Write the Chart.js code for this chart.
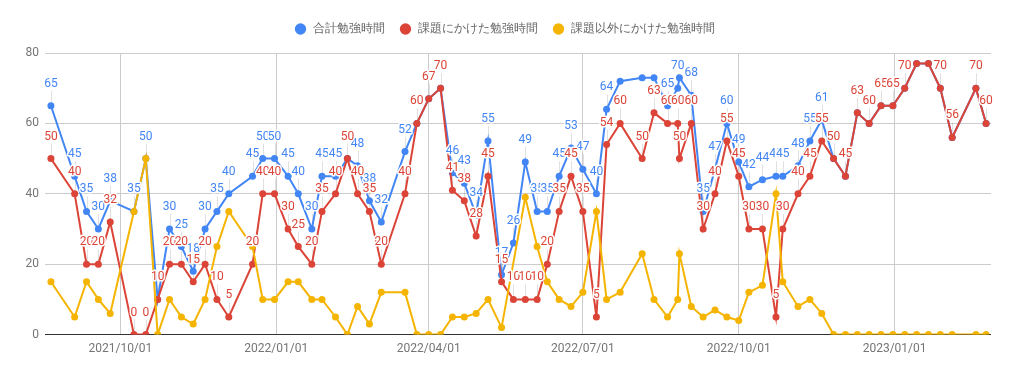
<!DOCTYPE html>
<html>
<head>
<meta charset="utf-8">
<script src="https://cdn.jsdelivr.net/npm/chart.js@4.4.1/dist/chart.umd.min.js"></script>
<style>
  html, body { margin: 0; background: #fff; }
</style>
</head>
<body>
<canvas id="chart" width="1009" height="373"></canvas>
<script>
// weekly study log
const dates = [
  '2021-08-21', '2021-09-04', '2021-09-11', '2021-09-18', '2021-09-25',
  '2021-10-09', '2021-10-16', '2021-10-23', '2021-10-30', '2021-11-06',
  '2021-11-13', '2021-11-20', '2021-11-27', '2021-12-04', '2021-12-18',
  '2021-12-24', '2021-12-31', '2022-01-08', '2022-01-14', '2022-01-22',
  '2022-01-28', '2022-02-05', '2022-02-12', '2022-02-18', '2022-02-25',
  '2022-03-04', '2022-03-18', '2022-03-25', '2022-04-01', '2022-04-08',
  '2022-04-15', '2022-04-22', '2022-04-29', '2022-05-06', '2022-05-14',
  '2022-05-21', '2022-05-28', '2022-06-04', '2022-06-10', '2022-06-17',
  '2022-06-24', '2022-07-01', '2022-07-09', '2022-07-15', '2022-07-23',
  '2022-08-05', '2022-08-12', '2022-08-20', '2022-08-26', '2022-08-27',
  '2022-09-03', '2022-09-10', '2022-09-17', '2022-09-24', '2022-10-01',
  '2022-10-07', '2022-10-15', '2022-10-23', '2022-10-27', '2022-11-05',
  '2022-11-12', '2022-11-19', '2022-11-26', '2022-12-03', '2022-12-10',
  '2022-12-17', '2022-12-24', '2022-12-31', '2023-01-07', '2023-01-14',
  '2023-01-21', '2023-01-28', '2023-02-04', '2023-02-18', '2023-02-24'
];
const totalHours = [
  65, 45, 35, 30, 38, 35, 50, 10, 30, 25,
  18, 30, 35, 40, 45, 50, 50, 45, 40, 30,
  45, 45, 50, 48, 38, 32, 52, 60, 67, 70,
  46, 43, 34, 55, 17, 26, 49, 35, 35, 45,
  53, 47, 40, 64, 72, 73, 73, 65, 70, 73,
  68, 35, 47, 60, 49, 42, 44, 45, 45, 48,
  55, 61, 50, 45, 63, 60, 65, 65, 70, 77,
  77, 70, 56, 70, 60
];
const assignmentHours = [
  50, 40, 20, 20, 32, 0, 0, 10, 20, 20,
  15, 20, 10, 5, 20, 40, 40, 30, 25, 20,
  35, 40, 50, 40, 35, 20, 40, 60, 67, 70,
  41, 38, 28, 45, 15, 10, 10, 10, 20, 35,
  45, 35, 5, 54, 60, 50, 63, 60, 60, 50,
  60, 30, 40, 55, 45, 30, 30, 5, 30, 40,
  45, 55, 50, 45, 63, 60, 65, 65, 70, 77,
  77, 70, 56, 70, 60
];
const otherHours = [
  15, 5, 15, 10, 6, 35, 50, 0, 10, 5,
  3, 10, 25, 35, 25, 10, 10, 15, 15, 10,
  10, 5, 0, 8, 3, 12, 12, 0, 0, 0,
  5, 5, 6, 10, 2, null, 39, 25, 15, 10,
  8, 12, 35, 10, 12, 23, 10, 5, 10, 23,
  8, 5, 7, 5, 4, 12, 14, 40, 15, 8,
  10, 6, 0, 0, 0, 0, 0, 0, 0, 0,
  0, 0, 0, 0, 0
];
const seriesNames = ['合計勉強時間', '課題にかけた勉強時間', '課題以外にかけた勉強時間'];
const tickLabels = ['2021/10/01', '2022/01/01', '2022/04/01', '2022/07/01', '2022/10/01', '2023/01/01'];
const xStart = '2021-08-17T12:00:00Z';
const xEnd = '2023-02-26T22:00:00Z';

const colors = ['#4285f4', '#db4437', '#f4b400'];
const LABEL_RISE = 22;
const labelFont = '12px Roboto, Arial, sans-serif';

const toTime = s => Date.parse(s);
const toSeries = values => values.map((v, i) => ({ x: toTime(dates[i]), y: v }));

// which labels to show: blue hides under an equal red one, and nothing above the plot
const labelSpots = chart => {
  const spots = [];
  const top = chart.chartArea.top;
  [0, 1].forEach(di => {
    const meta = chart.getDatasetMeta(di);
    const values = di === 0 ? totalHours : assignmentHours;
    meta.data.forEach((pt, i) => {
      const v = values[i];
      if (v == null) return;
      if (di === 0 && v === assignmentHours[i]) return;
      const ty = pt.y - LABEL_RISE;
      if (ty - 6 < top + 4) return;
      spots.push({ x: pt.x, y: pt.y, ty, text: String(v), color: colors[di] });
    });
  });
  return spots;
};

const pointLabels = {
  id: 'pointLabels',
  beforeDatasetsDraw(chart) {
    const ctx = chart.ctx;
    ctx.save();
    ctx.strokeStyle = 'rgba(0,0,0,0.12)';
    ctx.lineWidth = 1;
    labelSpots(chart).forEach(s => {
      const x = Math.round(s.x) + 0.5;
      ctx.beginPath();
      ctx.moveTo(x, s.y);
      ctx.lineTo(x, s.ty + 7);
      ctx.stroke();
    });
    ctx.restore();
  },
  afterDatasetsDraw(chart) {
    const ctx = chart.ctx;
    ctx.save();
    ctx.font = labelFont;
    ctx.textAlign = 'center';
    ctx.textBaseline = 'middle';
    ctx.lineJoin = 'round';
    labelSpots(chart).forEach(s => {
      ctx.strokeStyle = '#fff';
      ctx.lineWidth = 3;
      ctx.strokeText(s.text, s.x, s.ty);
      ctx.fillStyle = s.color;
      ctx.fillText(s.text, s.x, s.ty);
    });
    ctx.restore();
  }
};

// extra room between legend and plot
const legendGap = {
  id: 'legendGap',
  afterInit(chart) {
    const legend = chart.legend;
    const fit = legend.fit.bind(legend);
    legend.fit = () => { fit(); legend.height += 8; };
  }
};

const makeSet = (label, values, color, order) => ({
  label: label,
  data: toSeries(values),
  borderColor: color,
  backgroundColor: color,
  pointBackgroundColor: color,
  pointBorderWidth: 0,
  pointRadius: 3.5,
  borderWidth: 2,
  tension: 0,
  spanGaps: true,
  yAxisID: 'y',
  order: order
});

new Chart(document.getElementById('chart'), {
  type: 'line',
  data: {
    datasets: [
      makeSet(seriesNames[0], totalHours, colors[0], 3),
      makeSet(seriesNames[1], assignmentHours, colors[1], 2),
      makeSet(seriesNames[2], otherHours, colors[2], 1)
    ]
  },
  options: {
    responsive: false,
    animation: false,
    devicePixelRatio: 1,
    layout: { padding: { top: 8, right: 0, bottom: 10, left: 0 } },
    plugins: {
      tooltip: { enabled: false },
      legend: {
        position: 'top',
        labels: {
          usePointStyle: true,
          pointStyle: 'circle',
          boxHeight: 8,
          padding: 15,
          color: '#666',
          font: { family: 'Roboto, Arial, sans-serif', size: 12 },
          sort: (a, b) => a.datasetIndex - b.datasetIndex
        }
      }
    },
    scales: {
      x: {
        type: 'linear',
        min: toTime(xStart),
        max: toTime(xEnd),
        afterBuildTicks: scale => {
          scale.ticks = tickLabels.map(t => ({ value: toTime(t.replace(/\//g, '-')) }));
        },
        ticks: {
          autoSkip: false,
          maxRotation: 0,
          padding: 7,
          color: '#757575',
          font: { family: 'Roboto, Arial, sans-serif', size: 12 },
          callback: (value, i) => tickLabels[i]
        },
        grid: { color: '#cccccc', drawTicks: false },
        border: { display: false }
      },
      y: {
        min: 0,
        max: 80,
        afterFit: scale => { scale.width = 45; },
        ticks: {
          stepSize: 20,
          padding: 6,
          color: '#757575',
          font: { family: 'Roboto, Arial, sans-serif', size: 12 }
        },
        grid: {
          color: c => c.tick.value === 0 ? '#333333' : '#cccccc',
          drawTicks: false
        },
        border: { display: false }
      },
      // empty right margin, keeps the legend centred on the full width
      yRight: {
        position: 'right',
        min: 0,
        max: 1,
        afterFit: scale => { scale.width = 18; },
        ticks: { display: false },
        grid: { display: false, drawTicks: false },
        border: { display: false }
      }
    }
  },
  plugins: [pointLabels, legendGap]
});
</script>
</body>
</html>
